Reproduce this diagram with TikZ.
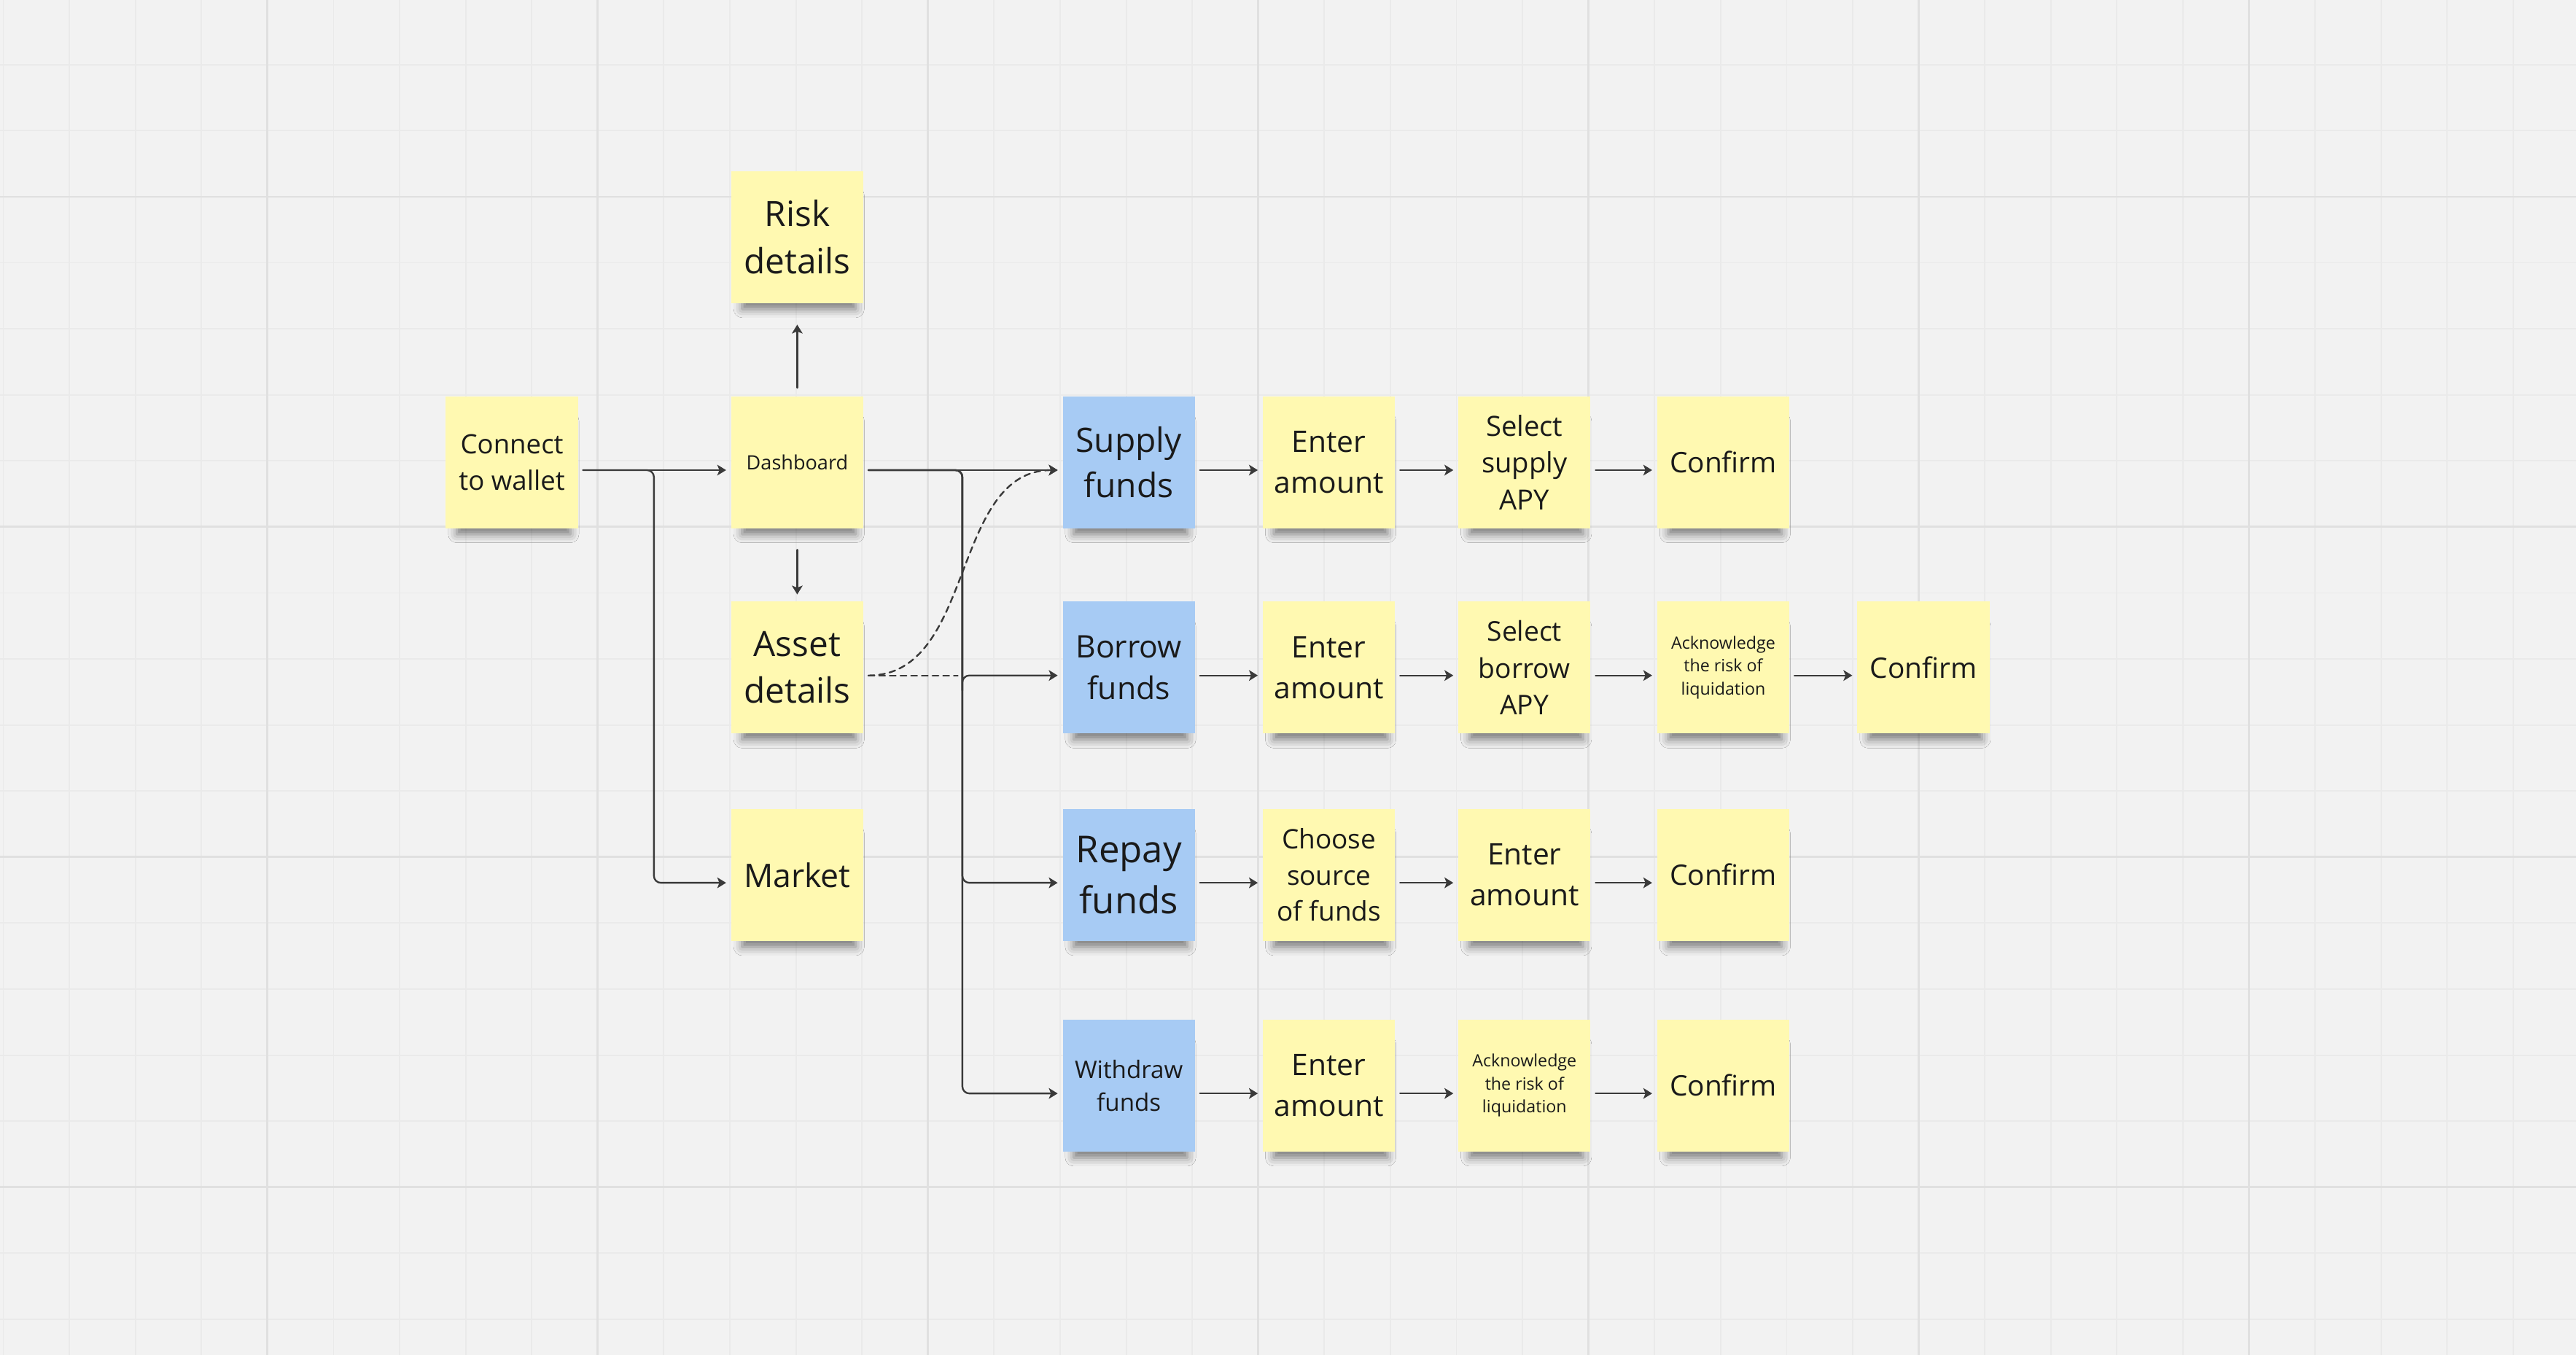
\documentclass[tikz,border=0pt]{standalone}
\usepackage{fontspec}
\setmainfont{Open Sans}
\usetikzlibrary{arrows.meta,shadows.blur}

\definecolor{board}{HTML}{F2F2F2}
\definecolor{gridminor}{HTML}{EAEAEA}
\definecolor{gridmajor}{HTML}{E0E0E0}
\definecolor{noteyellow}{HTML}{FFF9B1}
\definecolor{noteblue}{HTML}{A7CBF4}
\definecolor{ink}{HTML}{1A1A1A}
\definecolor{wirecol}{HTML}{3A3A3A}

\newcommand{\fsz}[2]{\fontsize{#1}{#2}\selectfont}

\tikzset{
  note/.style={fill=noteyellow, minimum width=2cm, minimum height=2cm, inner sep=1pt,
    align=center, text=ink,
    blur shadow={shadow xshift=0.03cm, shadow yshift=-0.27cm, shadow scale=0.86,
      shadow blur radius=0.15cm, shadow opacity=50}},
  bluenote/.style={note, fill=noteblue},
  wire/.style={draw=wirecol, line width=0.75pt, rounded corners=3pt,
    -{Stealth[length=3.8pt,width=4.6pt,inset=0.9pt]},
    shorten <=0.7mm, shorten >=0.7mm},
  dashwire/.style={wire, dash pattern=on 2.6pt off 2pt},
}

\begin{document}
\begin{tikzpicture}[line cap=round,line join=round]
  \useasboundingbox (0,0) rectangle (39,20.52);
  \fill[board] (0,0) rectangle (39,20.52);

  % board grid
  \foreach \x in {0,...,38}
    \draw[gridminor, line width=0.6pt] (\x+0.05,0) -- (\x+0.05,20.52);
  \foreach \y in {0,...,19}
    \draw[gridminor, line width=0.6pt] (0,\y+0.54) -- (39,\y+0.54);
  \foreach \x in {4.05,9.05,...,34.05}
    \draw[gridmajor, line width=0.9pt] (\x,0) -- (\x,20.52);
  \foreach \y in {2.54,7.54,12.54,17.54}
    \draw[gridmajor, line width=0.9pt] (0,\y) -- (39,\y);

  % left part
  \node[note, font=\fsz{11.5}{15.6}] (con) at (7.75,13.52) {Connect\\to wallet};
  \node[note, font=\fsz{8.5}{11.5}] (dash) at (12.07,13.52) {Dashboard};
  \node[note, font=\fsz{15}{20.4}] (risk) at (12.07,16.93) {Risk\\details};
  \node[note, font=\fsz{15}{20}] (asset) at (12.07,10.41) {Asset\\details};
  \node[note, font=\fsz{14}{19}] (market) at (12.07,7.27) {Market};

  % actions
  \node[bluenote, font=\fsz{14.5}{19.3}] (supply) at (17.09,13.52) {Supply\\funds};
  \node[bluenote, font=\fsz{13.4}{17.8}] (borrow) at (17.09,10.41) {Borrow\\funds};
  \node[bluenote, font=\fsz{16}{22}] (repay) at (17.09,7.27) {Repay\\funds};
  \node[bluenote, font=\fsz{10.4}{14.2}] (withdraw) at (17.09,4.08) {Withdraw\\funds};

  % supply row
  \node[note, font=\fsz{12.8}{17.7}] (sAmt) at (20.12,13.52) {Enter\\amount};
  \node[note, font=\fsz{12}{15.9}] (sApy) at (23.08,13.52) {Select\\supply\\APY};
  \node[note, font=\fsz{12.2}{16}] (sOk) at (26.09,13.52) {Confirm};

  % borrow row
  \node[note, font=\fsz{12.8}{17.7}] (bAmt) at (20.12,10.41) {Enter\\amount};
  \node[note, font=\fsz{11.7}{15.9}] (bApy) at (23.08,10.41) {Select\\borrow\\APY};
  \node[note, font=\fsz{7.3}{9.9}] (bAck) at (26.09,10.41) {Acknowledge\\the risk of\\liquidation};
  \node[note, font=\fsz{12.2}{16}] (bOk) at (29.12,10.41) {Confirm};

  % repay row
  \node[note, font=\fsz{11.6}{15.6}] (rSrc) at (20.12,7.27) {Choose\\source\\of funds};
  \node[note, font=\fsz{12.8}{17.7}] (rAmt) at (23.08,7.27) {Enter\\amount};
  \node[note, font=\fsz{12.2}{16}] (rOk) at (26.09,7.27) {Confirm};

  % withdraw row
  \node[note, font=\fsz{12.8}{17.7}] (wAmt) at (20.12,4.08) {Enter\\amount};
  \node[note, font=\fsz{7.3}{9.9}] (wAck) at (23.08,4.08) {Acknowledge\\the risk of\\liquidation};
  \node[note, font=\fsz{12.2}{16}] (wOk) at (26.09,4.08) {Confirm};

  \coordinate (split) at (9.90,10);
  \coordinate (trunk) at (14.57,10);

  % connectors
  \draw[wire] ([yshift=-1.2mm]con.east) -- ([yshift=-1.2mm]dash.west);
  \draw[wire] ([yshift=-1.2mm]con.east) -| (split) |- ([yshift=-1.2mm]market.west);
  \draw[wire, shorten <=1.2mm, shorten >=3.2mm] (dash.north) -- (risk.south);
  \draw[wire, shorten <=3.2mm, shorten >=1mm] (dash.south) -- (asset.north);

  \draw[wire] ([yshift=-1.2mm]dash.east) -- ([yshift=-1.2mm]supply.west);
  \foreach \t in {borrow,repay,withdraw}
    \draw[wire] ([yshift=-1.2mm]dash.east) -| (trunk) |- ([yshift=-1.2mm]\t.west);

  \draw[dashwire] ([yshift=-1.2mm]asset.east) to[out=0,in=180] ([yshift=-1.2mm]supply.west);
  \draw[dashwire, -] ([yshift=-1.2mm]asset.east) -- ([yshift=-1.2mm]asset.east -| trunk);

  \foreach \a/\b in {supply/sAmt,sAmt/sApy,sApy/sOk,
                     borrow/bAmt,bAmt/bApy,bApy/bAck,bAck/bOk,
                     repay/rSrc,rSrc/rAmt,rAmt/rOk,
                     withdraw/wAmt,wAmt/wAck,wAck/wOk}
    \draw[wire] ([yshift=-1.2mm]\a.east) -- ([yshift=-1.2mm]\b.west);
\end{tikzpicture}
\end{document}
